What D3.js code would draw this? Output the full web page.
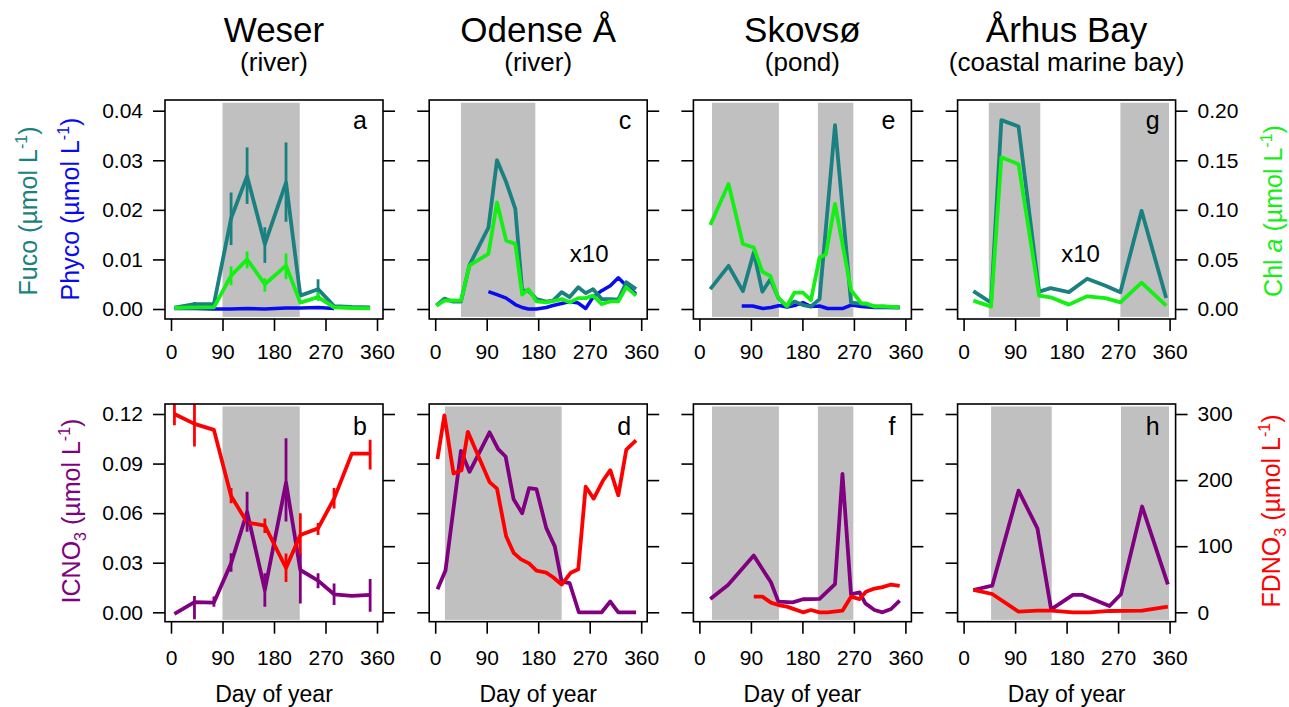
<!DOCTYPE html>
<html><head><meta charset="utf-8">
<script src="https://cdn.jsdelivr.net/npm/d3@7"></script>
<style>body{margin:0;background:#fff;} svg{display:block;} text{font-family:"Liberation Sans",Arial,Helvetica,sans-serif;fill:#000;}</style>
</head><body><svg id="c" width="1289" height="707"></svg>
<script>
// ---------- DATA ----------
const dayTicks = [0, 90, 180, 270, 360];
const topLeftTicks = [0, 0.01, 0.02, 0.03, 0.04];
const topRightTicks = [0, 0.05, 0.10, 0.15, 0.20];
const botLeftTicks = [0, 0.03, 0.06, 0.09, 0.12];
const botRightTicks = [0, 100, 200, 300];

const siteNames = ["Weser", "Odense Å", "Skovsø", "Århus Bay"];
const siteTypes = ["(river)", "(river)", "(pond)", "(coastal marine bay)"];
const topLetters = ["a", "c", "e", "g"];
const botLetters = ["b", "d", "f", "h"];

// Weser
const weserDays = [6, 41, 75, 105, 133, 164, 201, 226, 257, 285, 316, 348];
const weserFuco = [0.0003, 0.001, 0.001, 0.0183, 0.0268, 0.0131, 0.0255, 0.0027, 0.004, 0.0006, 0.0004, 0.0003];
const weserFucoErr = [null, [0.0007, 0.0014], null, [0.0129, 0.0235], [0.0212, 0.0326], [0.0093, 0.0165], [0.0176, 0.0336], null, [0.0022, 0.006], null, null, null];
const weserChl = [0.001, 0.0015, 0.0017, 0.0336, 0.050, 0.025, 0.0437, 0.0064, 0.012, 0.0017, 0.001, 0.0007];
const weserChlErr = [null, null, null, [0.024, 0.043], [0.041, 0.058], [0.0175, 0.031], [0.030, 0.056], null, [0.008, 0.017], null, null, null];
const weserPhycoDays = [6, 41, 75, 105, 133, 164, 201, 226, 257, 285];
const weserPhyco = [0.0001, 0.0001, 0.0, 0.0, 0.0001, 0.0, 0.0002, 0.0002, 0.0003, 0.0001];
const weserICNO3 = [-0.001, 0.0061, 0.0059, 0.0296, 0.0607, 0.0135, 0.0785, 0.0256, 0.0192, 0.0109, 0.0099, 0.0105];
const weserICNO3Err = [null, [-0.0042, 0.0099], [0.0034, 0.0095], [0.0246, 0.0357], [0.0488, 0.073], [0.0034, 0.0236], [0.0549, 0.1053], [0.0054, 0.0357], [0.0145, 0.0236], [0.0044, 0.0175], null, [0.0004, 0.0202]];
const weserFDNO3 = [300, 285, 276, 176, 136, 131, 67, 117, 127, 172, 240, 240];
const weserFDNO3Err = [[283, 320], [251, 320], null, [165, 188], null, [120, 142], [46, 89], [87, 150], [117, 135], [157, 188], null, [216, 261]];
const weserShadeTop = [[90, 225]];
const weserShadeBot = [[90, 225]];

// Odense Å
const odenseDays = [2, 16, 30, 45, 60, 93, 108, 124, 140, 152, 163, 177, 194, 206, 221, 235, 250, 263, 276, 291, 306, 320, 334, 351];
const odenseFuco = [0.0007, 0.0021, 0.0015, 0.0015, 0.0089, 0.0164, 0.030, 0.0256, 0.0202, 0.0037, 0.0037, 0.002, 0.0015, 0.0017, 0.0034, 0.0024, 0.0044, 0.0032, 0.004, 0.002, 0.002, 0.0019, 0.0054, 0.004];
const odenseChl = [0.0034, 0.0084, 0.0088, 0.0084, 0.044, 0.0556, 0.1074, 0.069, 0.0657, 0.0145, 0.02, 0.0077, 0.0067, 0.008, 0.01, 0.0067, 0.011, 0.011, 0.0135, 0.005, 0.0077, 0.0077, 0.022, 0.0135];
const odensePhycoDays = [93, 108, 124, 140, 152, 163, 177, 194, 206, 221, 235, 250, 263, 276, 291, 306, 320, 334, 351];
const odensePhyco = [0.0035, 0.0029, 0.0022, 0.0009, 0.0003, 0.0, 0.0, 0.0003, 0.0007, 0.0011, 0.0015, 0.0012, 0.0001, 0.0024, 0.0037, 0.0047, 0.0063, 0.0047, 0.003];
const odenseICNO3Days = [4, 18, 45, 60, 95, 110, 123, 137, 152, 164, 177, 194, 209, 221, 235, 251, 262, 291, 306, 320, 351];
const odenseICNO3 = [0.0139, 0.0253, 0.0977, 0.085, 0.1089, 0.0988, 0.0943, 0.0684, 0.06, 0.0751, 0.0745, 0.0511, 0.0399, 0.0186, 0.0176, 0, 0, 0, 0.0065, 0, 0];
const odenseFDNO3Days = [4, 16, 32, 46, 57, 95, 108, 124, 137, 150, 164, 177, 194, 206, 221, 237, 250, 263, 277, 293, 306, 320, 334, 351];
const odenseFDNO3 = [232, 298, 210, 215, 273, 197, 187, 115, 90, 80, 74, 63, 60, 53, 42, 60, 65, 190, 172, 199, 215, 177, 246, 260];
const odenseShadeTop = [[45, 175]];
const odenseShadeBot = [[17, 221]];

// Skovsø
const skovFucoDays = [19, 51, 76, 95, 110, 124, 138, 153, 166, 181, 195, 210, 237, 265, 283, 306, 350];
const skovFuco = [0.004, 0.0087, 0.0036, 0.0114, 0.0035, 0.006, 0.0022, 0.0005, 0.0015, 0.0008, 0.0005, 0.002, 0.0371, 0.0013, 0.0011, 0.0005, 0.0003];
const skovChlDays = [19, 51, 76, 95, 110, 124, 138, 153, 166, 181, 195, 210, 221, 237, 265, 283, 291, 306, 320, 350];
const skovChl = [0.0847, 0.126, 0.0655, 0.062, 0.0376, 0.0333, 0.011, 0.003, 0.0165, 0.0165, 0.009, 0.052, 0.055, 0.106, 0.019, 0.0057, 0.0057, 0.0024, 0.003, 0.0017];
const skovPhycoDays = [74, 93, 111, 125, 140, 153, 166, 181, 195, 210, 224, 250, 265, 283, 306, 350];
const skovPhyco = [0.0006, 0.0006, 0.0001, 0.0003, 0.0007, 0.0004, 0.0007, 0.0013, 0.0005, 0.0006, 0.0001, 0.0001, 0.0008, 0.0005, 0.0003, 0.0003];
const skovICNO3Days = [19, 50, 95, 125, 138, 163, 181, 210, 237, 250, 265, 280, 290, 306, 320, 335, 350];
const skovICNO3 = [0.0081, 0.0165, 0.0343, 0.0182, 0.0065, 0.006, 0.0079, 0.0081, 0.0171, 0.0837, 0.0109, 0.0121, 0.0054, 0.0014, 0, 0.002, 0.007];
const skovFDNO3Days = [95, 110, 125, 138, 153, 181, 195, 210, 224, 250, 265, 280, 291, 306, 320, 335, 350];
const skovFDNO3 = [23.7, 23.7, 14.6, 11, 8.6, 0, 3.5, 0, 0, 2.5, 23.7, 20, 31, 36, 38, 42, 40];
const skovShadeTop = [[22, 139], [207, 269]];
const skovShadeBot = [[22, 139], [207, 269]];

// Århus Bay
const aarhusDays = [17, 48, 66, 96, 132, 152, 184, 216, 248, 274, 311, 354];
const aarhusFuco = [0.0036, 0.0013, 0.0381, 0.0368, 0.0035, 0.0042, 0.0034, 0.0061, 0.0047, 0.0034, 0.0198, 0.0022];
const aarhusChl = [0.0084, 0.0024, 0.153, 0.146, 0.0135, 0.0118, 0.0044, 0.0128, 0.011, 0.0067, 0.0266, 0.0034];
const aarhusICNO3Days = [17, 50, 96, 129, 153, 191, 208, 255, 275, 312, 357];
const aarhusICNO3 = [0.0135, 0.0161, 0.0736, 0.0508, 0.0018, 0.0105, 0.0105, 0.0038, 0.0109, 0.064, 0.0169];
const aarhusFDNO3Days = [17, 50, 96, 129, 153, 191, 220, 255, 312, 357];
const aarhusFDNO3 = [33.8, 27.7, 1, 2.5, 2.5, 0, 0, 2, 2.5, 8.6];
const aarhusShadeTop = [[44, 134], [274, 359]];
const aarhusShadeBot = [[48, 154], [275, 359]];

// ---------- STYLE / LAYOUT ----------
const C = {teal: "#1b8080", green: "#14f014", blue: "#0a0af0", purple: "#800080", red: "#ff0000", shade: "#c0c0c0"};
const FONT = '"Liberation Sans",Arial,Helvetica,sans-serif';
const PW = 218, L0 = 165, DX = 264.2;
const rows = {
  top: {ft: 100, fb: 319, y0: 309, y1: 110.7, shadeLo: -0.0016, shadeHi: 0.0416, pad: 13, letterY: 129},
  bot: {ft: 404, fb: 621.7, y0: 612.3, y1: 414, shadeLo: -0.0046, shadeHi: 0.1246, pad: 16, letterY: 435}
};

const topPanels = [
  {days: weserDays, fuco: weserFuco, fucoErr: weserFucoErr, chlDays: weserDays, chl: weserChl, chlErr: weserChlErr, phDays: weserPhycoDays, ph: weserPhyco, shade: weserShadeTop},
  {days: odenseDays, fuco: odenseFuco, chlDays: odenseDays, chl: odenseChl, phDays: odensePhycoDays, ph: odensePhyco, shade: odenseShadeTop, x10: 160},
  {days: skovFucoDays, fuco: skovFuco, chlDays: skovChlDays, chl: skovChl, phDays: skovPhycoDays, ph: skovPhyco, shade: skovShadeTop},
  {days: aarhusDays, fuco: aarhusFuco, chlDays: aarhusDays, chl: aarhusChl, shade: aarhusShadeTop, x10: 123}
];
const botPanels = [
  {iDays: weserDays, ic: weserICNO3, icErr: weserICNO3Err, fDays: weserDays, fd: weserFDNO3, fdErr: weserFDNO3Err, shade: weserShadeBot},
  {iDays: odenseICNO3Days, ic: odenseICNO3, fDays: odenseFDNO3Days, fd: odenseFDNO3, shade: odenseShadeBot},
  {iDays: skovICNO3Days, ic: skovICNO3, fDays: skovFDNO3Days, fd: skovFDNO3, shade: skovShadeBot},
  {iDays: aarhusICNO3Days, ic: aarhusICNO3, fDays: aarhusFDNO3Days, fd: aarhusFDNO3, shade: aarhusShadeBot}
];

const svg = d3.select("#c");
svg.append("rect").attr("width", 1289).attr("height", 707).attr("fill", "#fff");
const defs = svg.append("defs");

function drawSeries(g, xs, days, vals, y, color, w) {
  const line = d3.line().x((d, i) => xs(days[i])).y(d => y(d));
  g.append("path").datum(vals).attr("d", line).attr("fill", "none")
    .attr("stroke", color).attr("stroke-width", w).attr("stroke-linejoin", "round");
}
function drawErr(g, xs, days, errs, y, color) {
  if (!errs) return;
  errs.forEach((e, i) => {
    if (!e) return;
    g.append("line").attr("x1", xs(days[i])).attr("x2", xs(days[i]))
      .attr("y1", y(e[0])).attr("y2", y(e[1])).attr("stroke", color).attr("stroke-width", 2.8);
  });
}
function styleAxis(ax) {
  ax.select(".domain").remove();
  ax.selectAll(".tick line").attr("stroke", "#000").attr("stroke-width", 1.6);
  ax.selectAll(".tick text").attr("font-size", 21).attr("font-family", FONT).attr("fill", "#000");
}

function panelFrame(i, row, letter, shade, drawContent, leftTicks, rightTicks, leftFmt, rightFmt, leftScale, rightScale) {
  const L = L0 + i * DX, R = L + PW;
  const xs = d3.scaleLinear().domain([0, 360]).range([L + 6, L + 212]);
  const g = svg.append("g");
  const cid = "clip" + letter;
  defs.append("clipPath").attr("id", cid).append("rect")
    .attr("x", L).attr("y", row.ft).attr("width", PW).attr("height", row.fb - row.ft);
  const inner = g.append("g").attr("clip-path", `url(#${cid})`);
  shade.forEach(s => {
    inner.append("rect").attr("x", xs(s[0])).attr("width", xs(s[1]) - xs(s[0]))
      .attr("y", leftScale(row.shadeHi)).attr("height", leftScale(row.shadeLo) - leftScale(row.shadeHi))
      .attr("fill", C.shade);
  });
  drawContent(inner, xs);
  g.append("rect").attr("x", L).attr("y", row.ft).attr("width", PW).attr("height", row.fb - row.ft)
    .attr("fill", "none").attr("stroke", "#000").attr("stroke-width", 1.6);
  const axL = g.append("g").attr("transform", `translate(${L},0)`)
    .call(d3.axisLeft(leftScale).tickValues(leftTicks).tickSize(12).tickPadding(10).tickFormat(i === 0 ? leftFmt : () => ""));
  styleAxis(axL);
  const axR = g.append("g").attr("transform", `translate(${R},0)`)
    .call(d3.axisRight(rightScale).tickValues(rightTicks).tickSize(12).tickPadding(10).tickFormat(i === 3 ? rightFmt : () => ""));
  styleAxis(axR);
  const axB = g.append("g").attr("transform", `translate(0,${row.fb})`)
    .call(d3.axisBottom(xs).tickValues(dayTicks).tickSize(12).tickPadding(row.pad).tickFormat(d3.format("d")));
  styleAxis(axB);
  g.append("text").attr("x", R - 16).attr("y", row.letterY).attr("text-anchor", "end")
    .attr("font-size", 25).text(letter);
  return {g, xs, L, R};
}

// top row
topPanels.forEach((p, i) => {
  const row = rows.top;
  const yF = d3.scaleLinear().domain([0, 0.04]).range([row.y0, row.y1]);
  const yC = d3.scaleLinear().domain([0, 0.20]).range([row.y0, row.y1]);
  const res = panelFrame(i, row, topLetters[i], p.shade, (inner, xs) => {
    if (p.ph) drawSeries(inner, xs, p.phDays, p.ph, yF, C.blue, 3.5);
    drawSeries(inner, xs, p.days, p.fuco, yF, C.teal, 3.8);
    drawSeries(inner, xs, p.chlDays, p.chl, yC, C.green, 3.8);
    drawErr(inner, xs, p.days, p.fucoErr, yF, C.teal);
    drawErr(inner, xs, p.chlDays, p.chlErr, yC, C.green);
  }, topLeftTicks, topRightTicks, d3.format(".2f"), d3.format(".2f"), yF, yC);
  if (p.x10) {
    res.g.append("text").attr("x", res.L + p.x10).attr("y", 262).attr("text-anchor", "middle")
      .attr("font-size", 24).text("x10");
  }
  const cx = res.L + PW / 2;
  svg.append("text").attr("x", cx).attr("y", 42).attr("text-anchor", "middle").attr("font-size", 35).text(siteNames[i]);
  svg.append("text").attr("x", cx).attr("y", 71).attr("text-anchor", "middle").attr("font-size", 26).text(siteTypes[i]);
});

// bottom row
botPanels.forEach((p, i) => {
  const row = rows.bot;
  const yI = d3.scaleLinear().domain([0, 0.12]).range([row.y0, row.y1]);
  const yD = d3.scaleLinear().domain([0, 300]).range([row.y0, row.y1]);
  const res = panelFrame(i, row, botLetters[i], p.shade, (inner, xs) => {
    drawSeries(inner, xs, p.iDays, p.ic, yI, C.purple, 3.8);
    drawSeries(inner, xs, p.fDays, p.fd, yD, C.red, 3.8);
    drawErr(inner, xs, p.iDays, p.icErr, yI, C.purple);
    drawErr(inner, xs, p.fDays, p.fdErr, yD, C.red);
  }, botLeftTicks, botRightTicks, d3.format(".2f"), d3.format("d"), yI, yD);
  svg.append("text").attr("x", res.L + PW / 2).attr("y", 702).attr("text-anchor", "middle")
    .attr("font-size", 23).text("Day of year");
});

// axis titles (rotated)
function rotTitle(x, y, color, parts) {
  const t = svg.append("text").attr("transform", `translate(${x},${y}) rotate(-90)`)
    .attr("text-anchor", "middle").attr("font-size", 25).style("fill", color);
  parts.forEach(pt => {
    const s = t.append("tspan").text(pt.t);
    if (pt.sup) s.attr("font-size", 16).attr("dy", -10);
    if (pt.sub) s.attr("font-size", 16).attr("dy", 6);
    if (pt.back) s.attr("dy", pt.back);
    if (pt.it) s.attr("font-style", "italic");
  });
}
rotTitle(37, 211, C.teal, [{t: "Fuco (µmol L"}, {t: "-1", sup: true}, {t: ")", back: 10}]);
rotTitle(79, 209, C.blue, [{t: "Phyco (µmol L"}, {t: "-1", sup: true}, {t: ")", back: 10}]);
rotTitle(80, 511, C.purple, [{t: "ICNO"}, {t: "3", sub: true}, {t: " (µmol L", back: -6}, {t: "-1", sup: true}, {t: ")", back: 10}]);
rotTitle(1282, 211, C.green, [{t: "Chl "}, {t: "a", it: true}, {t: " (µmol L"}, {t: "-1", sup: true}, {t: ")", back: 10}]);
rotTitle(1280, 511, C.red, [{t: "FDNO"}, {t: "3", sub: true}, {t: " (µmol L", back: -6}, {t: "-1", sup: true}, {t: ")", back: 10}]);
</script></body></html>
